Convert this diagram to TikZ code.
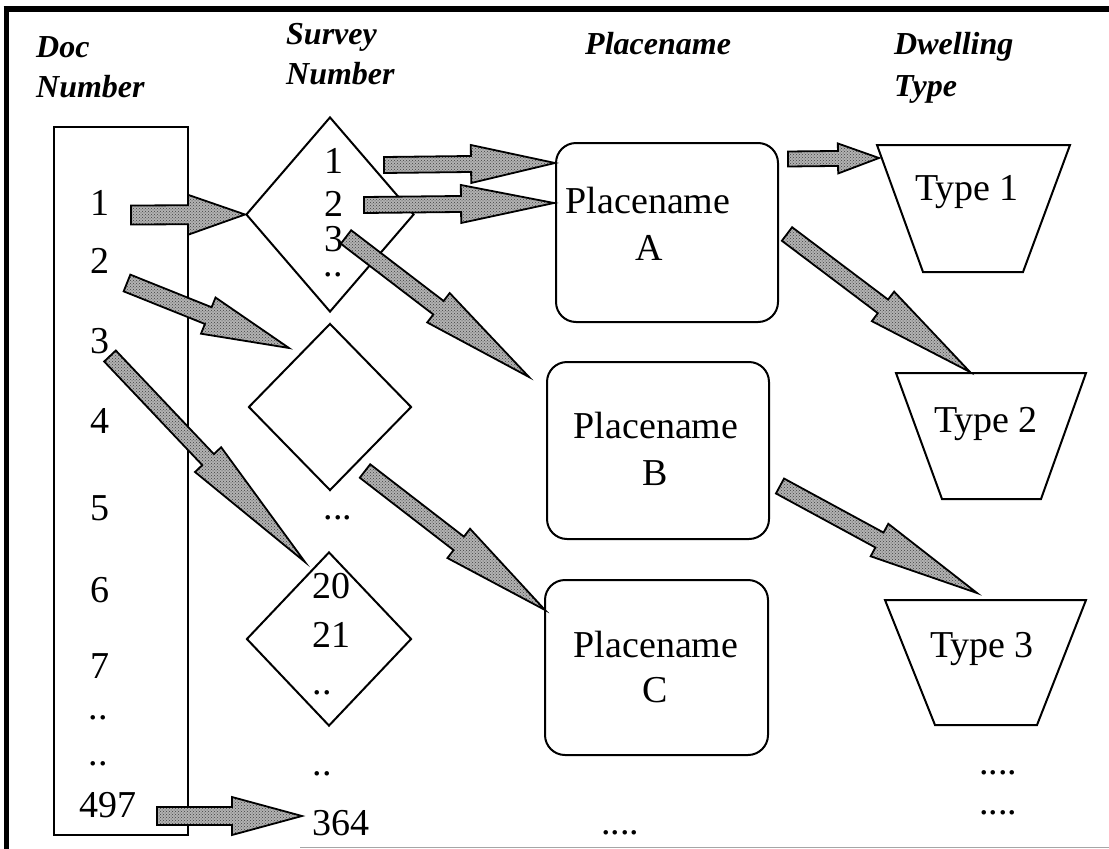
\documentclass[tikz,border=0pt]{standalone}
\usepackage{fontspec}
\setmainfont{Liberation Serif}
\usetikzlibrary{calc,shapes.geometric,patterns}
\tikzset{
  body/.style={font=\fontsize{38}{40}\selectfont, inner sep=0pt, anchor=base},
  head/.style={font=\fontsize{32}{34}\selectfont\bfseries\itshape, inner sep=0pt, anchor=base west},
  shapeline/.style={draw=black, line width=2pt},
  dia/.style={shapeline, diamond, inner sep=0pt},
  rbox/.style={shapeline, rectangle, rounded corners=20pt, inner sep=0pt},
  barrow/.style={draw=black, line width=1.8pt, preaction={fill=black!30}, pattern=crosshatch dots, pattern color=black!75, line join=miter},
}
\newcommand{\blockarrow}[5]{%
  \coordinate (bah) at ($(#2)!#5!(#1)$);
  \draw[barrow] ($(#1)!#3!90:(#2)$) -- ($(bah)!#3!90:(#2)$) -- ($(bah)!#4!90:(#2)$) -- (#2)
    -- ($(bah)!#4!-90:(#2)$) -- ($(bah)!#3!-90:(#2)$) -- ($(#1)!#3!-90:(#2)$) -- cycle;
}
\begin{document}
\begin{tikzpicture}[x=1pt,y=-1pt]
\useasboundingbox (0,0) rectangle (1109,849);
% frame
\draw[line width=6pt] (3.5,9) -- (1109,9);
\draw[line width=5.5pt] (6.5,6) -- (6.5,849);
\draw[line width=1.5pt, black!35] (300,847.5) -- (1109,847.5);

% headers
\node[head] (h1a) at (36,57) {Doc};
\node[head] (h1b) at (36,97) {Number};
\node[head] (h2a) at (286,44) {Survey};
\node[head] (h2b) at (286,84) {Number};
\node[head] (h3) at (585,54) {Placename};
\node[head] (h4a) at (894,54) {Dwelling};
\node[head] (h4b) at (894,96) {Type};

% doc box
\node[shapeline, rectangle, minimum width=134pt, minimum height=708pt, inner sep=0pt] (docbox) at (121,481) {};
\node[body] (n1) at (100,215) {1};
\node[body] (n2) at (100,273) {2};
\node[body] (n3) at (100,353) {3};
\node[body] (n4) at (100,433) {4};
\node[body] (n5) at (100,520) {5};
\node[body] (n6) at (100,602) {6};
\node[body] (n7) at (100,678) {7};
\node[body] (nd1) at (98,719) {..};
\node[body] (nd2) at (98,765) {..};
\node[body] (n497) at (108,817) {497};

% survey diamonds
\node[dia, minimum width=168pt, minimum height=195pt] (d1) at (330,214.5) {};
\node[dia, minimum width=163pt, minimum height=167pt] (d2) at (330,407) {};
\node[dia, minimum width=165pt, minimum height=174pt] (d3) at (329,639) {};
\node[body] (s1) at (334,173) {1};
\node[body] (s2) at (334,216) {2};
\node[body] (s3) at (334,251) {3};
\node[body] (sd1) at (333,276) {..};
\node[body] (sdots) at (338,519) {...};
\node[body] (s20) at (331,598) {20};
\node[body] (s21) at (331,647) {21};
\node[body] (sd2) at (322,694) {..};
\node[body] (sd3) at (322,775) {..};
\node[body] (s364) at (341,835) {364};

% placename boxes
\node[rbox, minimum width=222pt, minimum height=179pt] (pA) at (667,232.5) {};
\node[rbox, minimum width=222pt, minimum height=177pt] (pB) at (658,450.5) {};
\node[rbox, minimum width=223pt, minimum height=175pt] (pC) at (656.5,667.5) {};
\node[body] (pAt) at (648,213) {Placename};
\node[body] (pAl) at (649,260) {A};
\node[body] (pBt) at (656,438) {Placename};
\node[body] (pBl) at (655,485) {B};
\node[body] (pCt) at (656,657) {Placename};
\node[body] (pCl) at (655,702) {C};
\node[body] (pdots) at (620,834) {....};

% dwelling type trapezoids
\coordinate (t1a) at (877,145); \coordinate (t1b) at (1070,145);
\coordinate (t1c) at (1023,272); \coordinate (t1d) at (923,272);
\draw[shapeline, line join=miter] (t1a) -- (t1b) -- (t1c) -- (t1d) -- cycle;
\coordinate (t2a) at (896,373); \coordinate (t2b) at (1086,373);
\coordinate (t2c) at (1041,499); \coordinate (t2d) at (942,499);
\draw[shapeline, line join=miter] (t2a) -- (t2b) -- (t2c) -- (t2d) -- cycle;
\coordinate (t3a) at (885,600); \coordinate (t3b) at (1086,600);
\coordinate (t3c) at (1037,725); \coordinate (t3d) at (935,725);
\draw[shapeline, line join=miter] (t3a) -- (t3b) -- (t3c) -- (t3d) -- cycle;
\node[body] (ty1) at (967,200) {Type 1};
\node[body] (ty2) at (986,432) {Type 2};
\node[body] (ty3) at (982,657) {Type 3};
\node[body] (tdots1) at (998,774) {....};
\node[body] (tdots2) at (998,814) {....};

% arrow end points
\coordinate (a1s) at (131,215);  \coordinate (a1e) at (d1.west);
\coordinate (a2s) at (384,165);  \coordinate (a2e) at (555,163);
\coordinate (a3s) at (364,205);  \coordinate (a3e) at (554,203);
\coordinate (a4s) at (346,237);  \coordinate (a4e) at (529,377);
\coordinate (a5s) at (127,283);  \coordinate (a5e) at (289,348);
\coordinate (a6s) at (110,356);  \coordinate (a6e) at (305,562);
\coordinate (a7s) at (365,471);  \coordinate (a7e) at (545,610);
\coordinate (a8s) at (157,816);  \coordinate (a8e) at (302,816);
\coordinate (a9s) at (788,159);  \coordinate (a9e) at (879,158);
\coordinate (a10s) at (787,234); \coordinate (a10e) at (970,372);
\coordinate (a11s) at (780,486); \coordinate (a11e) at (977,593);

\blockarrow{a1s}{a1e}{9.5pt}{20pt}{57pt}
\blockarrow{a2s}{a2e}{8pt}{19pt}{84pt}
\blockarrow{a3s}{a3e}{8pt}{19pt}{93pt}
\blockarrow{a4s}{a4e}{8.5pt}{18.5pt}{114pt}
\blockarrow{a5s}{a5e}{9pt}{19.5pt}{87pt}
\blockarrow{a6s}{a6e}{8pt}{18pt}{141pt}
\blockarrow{a7s}{a7e}{8.5pt}{18.5pt}{109pt}
\blockarrow{a8s}{a8e}{9pt}{19pt}{70pt}
\blockarrow{a9s}{a9e}{7.5pt}{15pt}{41pt}
\blockarrow{a10s}{a10e}{8.5pt}{18.5pt}{109pt}
\blockarrow{a11s}{a11e}{8.5pt}{18.5pt}{111pt}
\end{tikzpicture}
\end{document}
